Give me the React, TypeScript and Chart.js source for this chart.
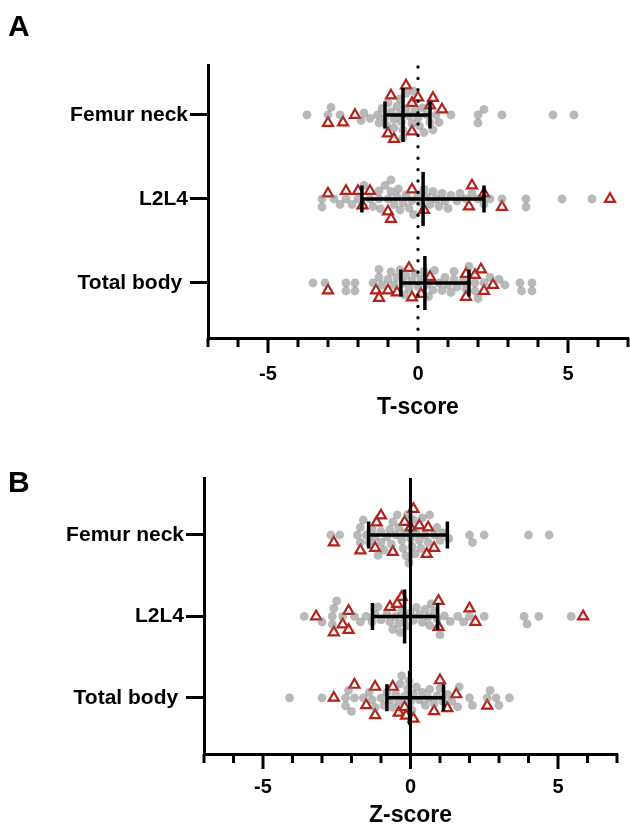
import React, { useEffect, useRef } from 'react';
import { Chart, registerables } from 'chart.js';

Chart.register(...registerables);

// ---------- data ----------
const categories = ['Femur neck', 'L2L4', 'Total body '];
const xMin = -7;
const xMax = 7;

// Panel A: T-score
const tFemurGrey = [-3.7, -3.0, -2.9, -2.6, -1.9, -1.8, -1.6, -1.35, -1.3, -1.2, -1.1, -1.05, -1.0, -0.9, -0.8, -0.8, -0.7, -0.6, -0.6, -0.55, -0.5, -0.5, -0.4, -0.4, -0.3, -0.2, -0.15, -0.1, 0.0, 0.05, 0.15, 0.2, 0.3, 0.4, 0.5, 0.6, 0.7, 1.1, 2.0, 2.0, 2.2, 2.8, 4.5, 5.2];
const tFemurRed = [-3.0, -2.5, -2.1, -1.0, -0.9, -0.8, -0.4, -0.2, -0.2, 0.0, 0.4, 0.5, 0.8];
const tL2L4Grey = [-3.2, -3.2, -2.8, -2.6, -2.4, -2.2, -2.0, -1.8, -1.6, -1.5, -1.3, -1.3, -1.25, -1.1, -1.0, -0.9, -0.9, -0.8, -0.7, -0.65, -0.6, -0.5, -0.4, -0.3, -0.2, -0.15, 0.0, 0.1, 0.2, 0.3, 0.4, 0.5, 0.6, 0.7, 0.8, 0.9, 1.0, 1.1, 1.3, 1.4, 1.6, 1.8, 2.0, 2.2, 2.4, 2.8, 3.6, 3.6, 4.8, 5.8];
const tL2L4Red = [-3.0, -2.4, -2.0, -1.85, -1.6, -1.0, -0.9, -0.2, 0.2, 1.7, 1.8, 2.2, 2.8, 6.4];
const tBodyGrey = [-3.5, -3.1, -2.4, -2.4, -2.1, -2.1, -1.5, -1.3, -1.3, -1.2, -1.0, -0.9, -0.8, -0.7, -0.6, -0.5, -0.45, -0.4, -0.3, -0.2, -0.1, 0.0, 0.1, 0.2, 0.3, 0.35, 0.5, 0.55, 0.7, 0.8, 0.9, 1.0, 1.1, 1.2, 1.2, 1.3, 1.5, 1.6, 1.7, 1.9, 1.9, 2.0, 2.2, 2.4, 2.7, 2.9, 3.4, 3.45, 3.8, 3.8];
const tBodyRed = [-3.0, -1.4, -1.3, -1.0, -0.7, -0.3, -0.2, 0.1, 0.4, 1.6, 1.6, 1.9, 2.1, 2.2, 2.5];
const tMedian = [-0.5, 0.17, 0.23];
const tQ1 = [-1.1, -1.87, -0.57];
const tQ3 = [0.4, 2.2, 1.7];

// Panel B: Z-score
const zFemurGrey = [-2.7, -2.4, -1.8, -1.7, -1.7, -1.6, -1.5, -1.4, -1.3, -1.2, -1.1, -1.0, -1.0, -0.9, -0.8, -0.7, -0.65, -0.6, -0.5, -0.45, -0.4, -0.3, -0.25, -0.2, -0.15, -0.1, -0.05, 0.0, 0.05, 0.1, 0.15, 0.2, 0.3, 0.35, 0.4, 0.5, 0.6, 0.65, 0.8, 0.9, 1.0, 1.1, 1.3, 2.0, 2.1, 2.5, 4.0, 4.7];
const zFemurRed = [-2.6, -1.7, -1.2, -1.15, -1.0, -0.6, -0.2, 0.0, 0.1, 0.3, 0.55, 0.6, 0.8];
const zL2L4Grey = [-3.6, -3.0, -2.65, -2.65, -2.6, -2.5, -2.3, -1.9, -1.7, -1.5, -1.3, -1.2, -1.1, -1.0, -0.8, -0.7, -0.6, -0.5, -0.4, -0.35, -0.3, -0.2, -0.1, 0.0, 0.1, 0.2, 0.3, 0.4, 0.5, 0.6, 0.65, 0.7, 0.8, 0.9, 1.0, 1.15, 1.35, 1.6, 1.8, 2.0, 2.5, 3.85, 3.95, 4.35, 5.45];
const zL2L4Red = [-3.2, -2.6, -2.3, -2.1, -2.1, -0.7, -0.45, -0.3, 0.95, 0.95, 2.0, 2.2, 5.85];
const zBodyGrey = [-4.1, -3.0, -2.2, -2.2, -2.1, -2.0, -1.9, -1.6, -1.4, -1.3, -1.2, -1.0, -0.9, -0.8, -0.7, -0.6, -0.5, -0.4, -0.35, -0.3, -0.2, -0.1, -0.05, 0.0, 0.05, 0.1, 0.2, 0.3, 0.4, 0.5, 0.6, 0.65, 0.8, 0.9, 1.0, 1.1, 1.25, 1.4, 1.6, 1.65, 2.0, 2.1, 2.6, 2.7, 2.9, 3.0, 3.35];
const zBodyRed = [-2.6, -1.9, -1.5, -1.2, -1.2, -0.6, -0.4, -0.2, -0.15, 0.1, 0.8, 1.0, 1.25, 1.55, 2.6];
const zMedian = [0.0, -0.2, -0.03];
const zQ1 = [-1.42, -1.29, -0.8];
const zQ3 = [1.25, 0.92, 1.12];

// ---------- helpers ----------
const FONT = '"Liberation Sans", Arial, Helvetica, sans-serif';

// simple beeswarm: spreads points of one row perpendicular to the value axis
function swarm(groups: number[][], pxX: number, pxY: number, d: number): number[][] {
  const items: { gi: number; vi: number; v: number }[] = [];
  groups.forEach((g, gi) => g.forEach((v, vi) => items.push({ gi, vi, v })));
  items.sort((a, b) => a.v - b.v);
  const placed: { x: number; y: number }[] = [];
  const out = groups.map((g) => g.map(() => 0));
  for (const it of items) {
    const x = it.v * pxX;
    const near = placed.filter((p) => Math.abs(p.x - x) < d);
    let y = 0;
    for (let k = 0; k < 600; k++) {
      const cand = k === 0 ? 0 : (k % 2 ? 1 : -1) * Math.ceil(k / 2) * 0.5;
      if (near.every((p) => (p.x - x) ** 2 + (p.y - cand) ** 2 >= d * d)) {
        y = cand;
        break;
      }
    }
    placed.push({ x, y });
    out[it.gi][it.vi] = y / pxY;
  }
  return out;
}

function makeOverlay(median: number[], q1: number[], q3: number[], dotted: boolean) {
  return {
    id: 'overlay',
    afterDatasetsDraw(chart: any) {
      const { ctx, chartArea, scales } = chart;
      const x = scales.x;
      const y = scales.y;
      ctx.save();
      ctx.strokeStyle = '#000';
      const x0 = x.getPixelForValue(0);
      ctx.beginPath();
      if (dotted) {
        ctx.setLineDash([0, 11.4]);
        ctx.lineCap = 'round';
        ctx.lineWidth = 3.4;
        ctx.moveTo(x0, chartArea.top + 2);
      } else {
        ctx.lineWidth = 3;
        ctx.moveTo(x0, chartArea.top);
      }
      ctx.lineTo(x0, chartArea.bottom);
      ctx.stroke();
      ctx.setLineDash([]);
      ctx.lineCap = 'butt';
      ctx.lineWidth = 3.5;
      median.forEach((m, i) => {
        const yc = y.getPixelForValue(i);
        const a = x.getPixelForValue(q1[i]);
        const b = x.getPixelForValue(q3[i]);
        const mm = x.getPixelForValue(m);
        ctx.beginPath();
        ctx.moveTo(a, yc);
        ctx.lineTo(b, yc);
        ctx.moveTo(a, yc - 13.5);
        ctx.lineTo(a, yc + 13.5);
        ctx.moveTo(b, yc - 13.5);
        ctx.lineTo(b, yc + 13.5);
        ctx.moveTo(mm, yc - 27);
        ctx.lineTo(mm, yc + 27);
        ctx.stroke();
      });
      ctx.restore();
    },
    afterDraw(chart: any) {
      const { ctx, chartArea, scales } = chart;
      const x = scales.x;
      ctx.save();
      ctx.strokeStyle = '#000';
      ctx.lineWidth = 3;
      x.ticks.forEach((t: any) => {
        const px = x.getPixelForValue(t.value);
        const len = Math.abs(t.value % 5) < 1e-9 ? 15 : 9;
        ctx.beginPath();
        ctx.moveTo(px, chartArea.bottom);
        ctx.lineTo(px, chartArea.bottom + len);
        ctx.stroke();
      });
      ctx.restore();
    },
  };
}

interface PanelOpts {
  rows: [number[], number[]][];
  median: number[];
  q1: number[];
  q3: number[];
  dotted: boolean;
  title: string;
  yMin: number;
  yMax: number;
  pxX: number;
  pxY: number;
  padTop: number;
  padRight: number;
  yWidth: number;
  xHeight: number;
  tickGap: number;
  titlePadBottom: number;
}

function makeConfig(o: PanelOpts): any {
  const grey: { x: number; y: number }[] = [];
  const red: { x: number; y: number }[] = [];
  o.rows.forEach(([g, r], i) => {
    const [og, or] = swarm([g, r], o.pxX, o.pxY, 7.9);
    g.forEach((v, k) => grey.push({ x: v, y: i + og[k] }));
    r.forEach((v, k) => red.push({ x: v, y: i + or[k] }));
  });
  return {
    type: 'scatter',
    data: {
      datasets: [
        {
          data: grey,
          pointStyle: 'circle',
          pointRadius: 4.4,
          pointBackgroundColor: 'rgba(115,115,115,0.5)',
          pointBorderWidth: 0,
          pointBorderColor: 'rgba(0,0,0,0)',
        },
        {
          data: red,
          pointStyle: 'triangle',
          pointRadius: 5.8,
          pointBackgroundColor: 'rgba(255,255,255,0.7)',
          pointBorderColor: '#b3211b',
          pointBorderWidth: 2.2,
        },
      ],
    },
    options: {
      responsive: false,
      animation: false,
      events: [],
      layout: { autoPadding: false, padding: { top: o.padTop, right: o.padRight, left: 0, bottom: 0 } },
      plugins: { legend: { display: false }, tooltip: { enabled: false } },
      scales: {
        x: {
          type: 'linear',
          min: xMin,
          max: xMax,
          ticks: {
            stepSize: 1,
            autoSkip: false,
            maxRotation: 0,
            padding: 0,
            color: '#000',
            font: { family: FONT, size: 20, weight: 'bold' },
            callback: (v: number) => (Math.abs(v % 5) < 1e-9 ? String(v) : ''),
          },
          grid: { display: false, drawTicks: true, tickLength: o.tickGap },
          border: { display: true, width: 3, color: '#000' },
          title: {
            display: true,
            text: o.title,
            color: '#000',
            font: { family: FONT, size: 23, weight: 'bold', lineHeight: 1 },
            padding: { top: 0, bottom: o.titlePadBottom },
          },
          afterFit: (s: any) => {
            s.height = o.xHeight;
          },
        },
        y: {
          type: 'linear',
          reverse: true,
          min: o.yMin,
          max: o.yMax,
          afterBuildTicks: (s: any) => {
            s.ticks = categories.map((_, i) => ({ value: i }));
          },
          ticks: {
            autoSkip: false,
            padding: 2,
            color: '#000',
            font: { family: FONT, size: 21, weight: 'bold' },
            callback: (v: number) => categories[Math.round(v)] ?? '',
          },
          grid: {
            display: true,
            drawOnChartArea: false,
            drawTicks: true,
            tickLength: 18,
            tickWidth: 3,
            tickColor: '#000',
            color: '#000',
            lineWidth: 3,
          },
          border: { display: true, width: 3, color: '#000' },
          afterFit: (s: any) => {
            s.width = o.yWidth;
          },
        },
      },
    },
    plugins: [makeOverlay(o.median, o.q1, o.q3, o.dotted)],
  };
}

export default function App() {
  const refA = useRef<HTMLCanvasElement>(null);
  const refB = useRef<HTMLCanvasElement>(null);

  useEffect(() => {
    const cfgA = makeConfig({
      rows: [
        [tFemurGrey, tFemurRed],
        [tL2L4Grey, tL2L4Red],
        [tBodyGrey, tBodyRed],
      ],
      median: tMedian,
      q1: tQ1,
      q3: tQ3,
      dotted: true,
      title: 'T-score',
      yMin: -0.595,
      yMax: 2.655,
      pxX: 30,
      pxY: 84,
      padTop: 65,
      padRight: 2,
      yWidth: 208,
      xHeight: 82,
      tickGap: 24,
      titlePadBottom: 1,
    });
    const cfgB = makeConfig({
      rows: [
        [zFemurGrey, zFemurRed],
        [zL2L4Grey, zL2L4Red],
        [zBodyGrey, zBodyRed],
      ],
      median: zMedian,
      q1: zQ1,
      q3: zQ3,
      dotted: false,
      title: 'Z-score',
      yMin: -0.7,
      yMax: 2.69,
      pxX: 29.5,
      pxY: 81.5,
      padTop: 58,
      padRight: 13,
      yWidth: 204,
      xHeight: 73,
      tickGap: 21,
      titlePadBottom: 0,
    });
    const a = new Chart(refA.current as HTMLCanvasElement, cfgA);
    const b = new Chart(refB.current as HTMLCanvasElement, cfgB);
    return () => {
      a.destroy();
      b.destroy();
    };
  }, []);

  const letter: React.CSSProperties = {
    position: 'absolute',
    left: 8,
    font: `bold 30px ${FONT}`,
    lineHeight: '30px',
    color: '#000',
  };

  return (
    <div style={{ position: 'absolute', left: 0, top: 0, width: 630, height: 827, background: '#fff', overflow: 'hidden' }}>
      <canvas ref={refA} width={630} height={420} style={{ position: 'absolute', left: 0, top: 0, width: 630, height: 420 }} />
      <canvas ref={refB} width={630} height={407} style={{ position: 'absolute', left: 0, top: 420, width: 630, height: 407 }} />
      <div style={{ ...letter, top: 11 }}>A</div>
      <div style={{ ...letter, top: 467 }}>B</div>
    </div>
  );
}
